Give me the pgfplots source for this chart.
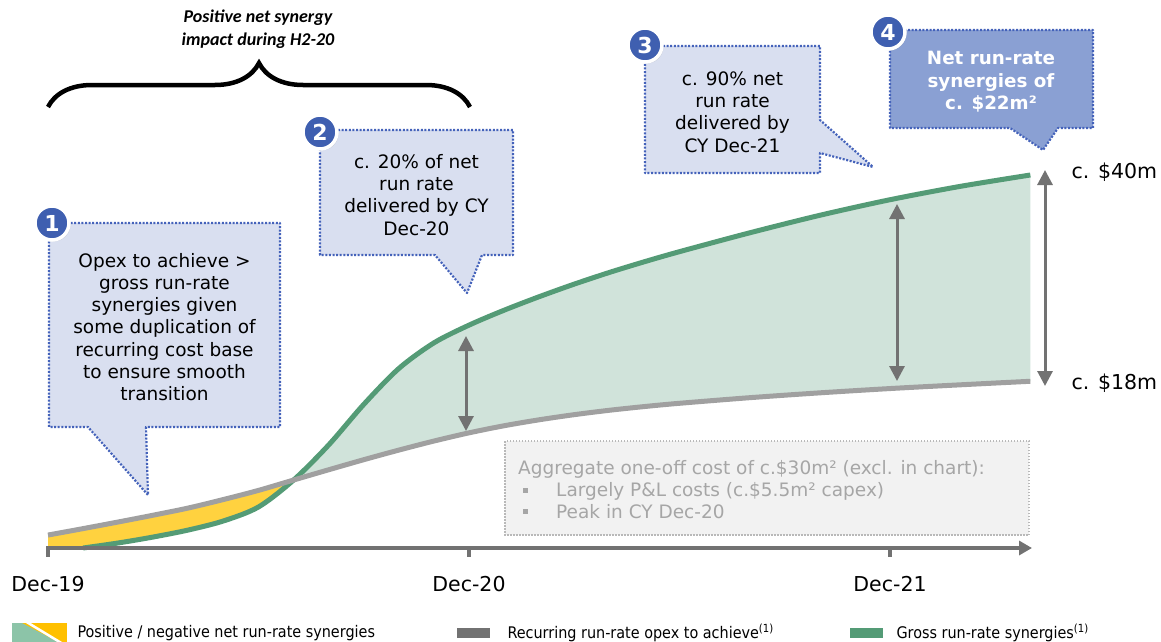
\documentclass[border=0pt]{standalone}
\usepackage{fontspec}
\setmainfont{DejaVu Sans}
\newfontfamily\cond{DejaVu Sans Condensed}
\newfontfamily\carl{Carlito}
\usepackage{pgfplots}
\usepackage{pgfplotstable}
\pgfplotsset{compat=1.18}
\usepgfplotslibrary{fillbetween}
\usetikzlibrary{arrows.meta,decorations.pathreplacing,shadows}

\definecolor{gline}{RGB}{84,155,118}
\definecolor{gfill}{RGB}{208,227,218}
\definecolor{oline}{RGB}{160,160,160}
\definecolor{synyellow}{RGB}{255,210,63}
\definecolor{agrey}{RGB}{114,114,114}
\definecolor{cfill}{RGB}{217,223,240}
\definecolor{cborder}{RGB}{68,98,186}
\definecolor{cfourfill}{RGB}{138,160,211}
\definecolor{numblue}{RGB}{63,95,176}
\definecolor{boxfill}{RGB}{242,242,242}
\definecolor{boxborder}{RGB}{185,185,185}
\definecolor{boxtext}{RGB}{166,166,166}
\definecolor{legyel}{RGB}{255,192,0}
\definecolor{leggrn}{RGB}{140,196,168}

% months since Dec-19, $m
\pgfplotstableread{
m v
0 0
1 0.0
2 0.54
3 1.18
4 1.93
5 2.90
6 4.40
7 7.29
8 11.05
9 15.40
10 19.25
11 22.00
12 23.90
13 25.50
14 26.95
15 28.30
16 29.55
17 30.70
18 31.78
20 33.80
22 35.68
24 37.35
26 38.78
28 40.0
}\gross
\pgfplotstableread{
m v
0 1.39
1 2.08
2 2.79
3 3.52
4 4.29
5 5.20
6 6.18
7 7.29
8 8.39
9 9.47
10 10.50
11 11.47
12 12.35
13 13.11
14 13.75
15 14.30
16 14.77
17 15.17
18 15.52
20 16.12
22 16.64
24 17.10
26 17.50
28 17.88
}\opex

\begin{document}
\begin{tikzpicture}
\begin{axis}[at={(0pt,-642pt)}, anchor=south west, width=1161pt, height=642pt,
  scale only axis, xmin=-1.3682, xmax=31.725, ymin=-10.080, ymax=58.767,
  hide axis, clip=false]
\addplot[draw=none, name path=G, smooth] table[x=m,y=v] {\gross};
\addplot[draw=none, name path=O, smooth] table[x=m,y=v] {\opex};
\addplot[fill=synyellow, draw=none] fill between[of=G and O, soft clip={domain=-1:7.0}];
\addplot[fill=gfill, draw=none] fill between[of=G and O, soft clip={domain=7.0:28}];
\addplot[gline, line width=5pt, smooth, restrict x to domain=1:28] table[x=m,y=v] {\gross};
\addplot[oline, line width=5pt, smooth] table[x=m,y=v] {\opex};
\end{axis}

\begin{scope}[x=1pt,y=-1pt]
% time axis
\draw[agrey, line width=4pt, -{Triangle[width=14pt,length=13pt]}] (46,548) -- (1032,548);
\foreach \t in {48,469,890} \draw[agrey, line width=3.5pt] (\t,548) -- (\t,557);
\node[font=\fontsize{20.5}{24}\selectfont] at (48,584) {Dec-19};
\node[font=\fontsize{20.5}{24}\selectfont] at (469,584) {Dec-20};
\node[font=\fontsize{20.5}{24}\selectfont] at (890,584) {Dec-21};

% double arrows
\tikzset{darr/.style={agrey, line width=3pt, {Triangle[width=15pt,length=15pt]}-{Triangle[width=15pt,length=15pt]}}}
\draw[darr] (466,336) -- (466,431);
\draw[darr] (897,204) -- (897,381);
\draw[darr] (1045,170) -- (1045,386);
\node[anchor=west, font=\fontsize{20.5}{24}\selectfont] at (1068,172) {c. \$40m};
\node[anchor=west, font=\fontsize{20.5}{24}\selectfont] at (1068,383) {c. \$18m};

% info box
\draw[fill=boxfill, draw=boxborder, line width=1.5pt, dash pattern=on 1.5pt off 1.5pt] (505,441) rectangle (1029,535);
\begin{scope}[font=\fontsize{18.5}{22}\selectfont, text=boxtext]
\node[anchor=west, inner sep=0pt] at (518,469) {Aggregate one-off cost of c.\$30m² (excl. in chart):};
\fill[boxtext] (523,488) rectangle (528,493);
\fill[boxtext] (523,509) rectangle (528,514);
\node[anchor=west, inner sep=0pt] at (556,491) {Largely P\&L costs (c.\$5.5m² capex)};
\node[anchor=west, inner sep=0pt] at (556,512) {Peak in CY Dec-20};
\end{scope}

% callouts
\tikzset{call/.style={fill=cfill, draw=cborder, line width=2.2pt, dash pattern=on 2pt off 1.6pt, line join=round},
  ctext/.style={align=center, font=\fontsize{18.5}{22.2}\selectfont},
  num/.style={circle, fill=numblue, draw=white, line width=3.5pt, minimum size=34pt, inner sep=0pt, text=white,
    font=\bfseries\fontsize{22}{22}\selectfont, drop shadow={shadow xshift=1.5pt, shadow yshift=-1.5pt, opacity=0.25}}}
\draw[call] (49,223) -- (280,223) -- (280,427) -- (146,427) -- (148,495) -- (88,427) -- (49,427) -- cycle;
\node[ctext] at (164.5,327) {Opex to achieve >\\gross run-rate\\synergies given\\some duplication of\\recurring cost base\\to ensure smooth\\transition};
\draw[call] (320,130) -- (513,130) -- (513,255) -- (482,255) -- (467,293) -- (435,255) -- (320,255) -- cycle;
\node[ctext] at (416.5,195) {c. 20\% of net\\run rate\\delivered by CY\\Dec-20};
\draw[call] (645,46) -- (820,46) -- (820,120) -- (873,167) -- (820,153) -- (820,173) -- (645,173) -- cycle;
\node[ctext] at (732.5,112) {c. 90\% net\\run rate\\delivered by\\CY Dec-21};
\draw[call, fill=cfourfill] (890,30) -- (1093,30) -- (1093,128) -- (1058,128) -- (1043,150) -- (1010,128) -- (890,128) -- cycle;
\node[ctext, text=white, font=\bfseries\fontsize{18.3}{22.5}\selectfont] at (991,82) {Net run-rate\\synergies of\\c. \$22m²};

\node[num] at (52,223) {1};
\node[num] at (320,132) {2};
\node[num] at (645,45) {3};
\node[num] at (888,32) {4};

% brace and title
\draw[line width=4.5pt, decorate, decoration={brace, amplitude=44pt}] (48,107) -- (470,107);
\node[align=center, font=\carl\bfseries\itshape\fontsize{18}{23}\selectfont] at (258,29) {Positive net synergy\\impact during H2-20};

% legend
\fill[legyel] (12,623) rectangle (67,642);
\fill[leggrn] (12,623) -- (22,623) -- (58,642) -- (12,642) -- cycle;
\draw[white, line width=2.5pt] (25,621) -- (63,644);
\node[anchor=west, font=\cond\fontsize{16}{18}\selectfont] at (74,633) {Positive / negative net run-rate synergies};
\fill[agrey] (457,628) rectangle (490,638);
\node[anchor=west, font=\cond\fontsize{16}{18}\selectfont] at (504,633) {Recurring run-rate opex to achieve\textsuperscript{(1)}};
\fill[gline] (850,628) rectangle (883,638);
\node[anchor=west, font=\cond\fontsize{16}{18}\selectfont] at (893,633) {Gross run-rate synergies\textsuperscript{(1)}};

\pgfresetboundingbox
\path[use as bounding box] (0,0) rectangle (1161,642);
\end{scope}
\end{tikzpicture}
\end{document}
